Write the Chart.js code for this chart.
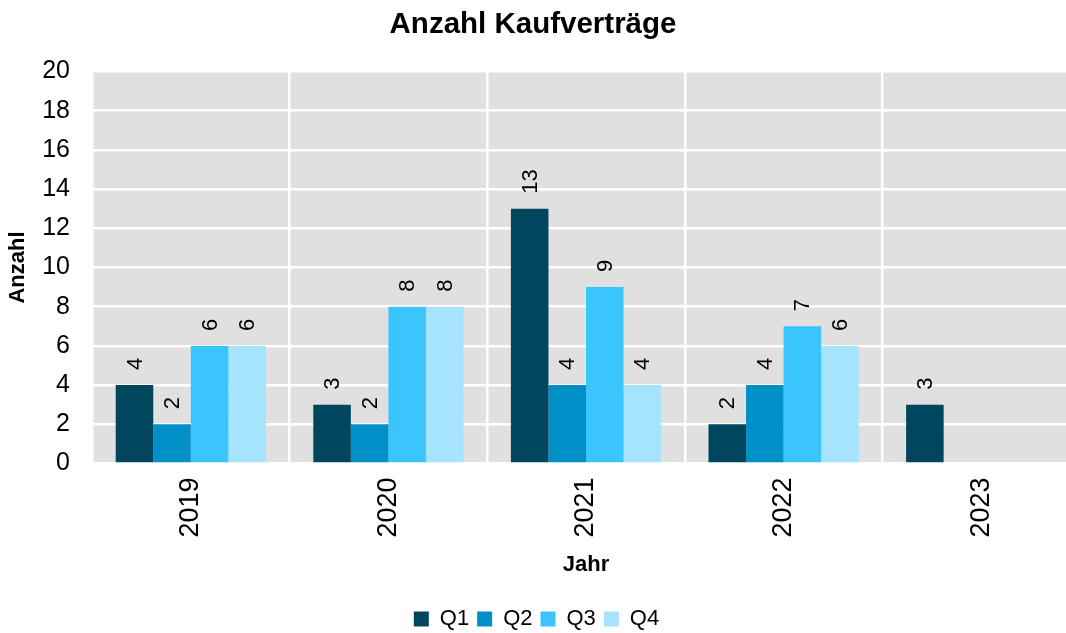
<!DOCTYPE html>
<html>
<head>
<meta charset="utf-8">
<script src="https://cdn.jsdelivr.net/npm/chart.js@4"></script>
<style>
  html, body { margin: 0; padding: 0; background: #ffffff; overflow: hidden; }
  #wrap { width: 1066px; height: 633px; overflow: hidden; }
</style>
</head>
<body>
<div id="wrap"><canvas id="kaufChart" width="1094" height="640"></canvas></div>
<script>
const years = ['2019', '2020', '2021', '2022', '2023'];
const q1 = [4, 3, 13, 2, 3];
const q2 = [2, 2, 4, 4, null];
const q3 = [6, 8, 9, 7, null];
const q4 = [6, 8, 4, 6, null];
const seriesNames = ['Q1', 'Q2', 'Q3', 'Q4'];
const seriesColors = ['#00465f', '#0090c8', '#3bc5ff', '#a5e3ff'];

const FONT = "'Liberation Sans', Arial, sans-serif";

// grey plot background
const plotBackground = {
    id: 'plotBackground',
    beforeDraw(chart) {
        const { ctx, chartArea } = chart;
        ctx.save();
        ctx.fillStyle = '#e0e0e0';
        ctx.fillRect(chartArea.left, chartArea.top,
            chartArea.right - chartArea.left, chartArea.bottom - chartArea.top);
        ctx.restore();
    }
};

// plot runs past the visible edge, so keep title and legend centred on the page
const centreBlocks = {
    id: 'centreBlocks',
    afterLayout(chart) {
        if (chart.titleBlock) {
            chart.titleBlock.left = 0;
            chart.titleBlock.right = 1066;
        }
        if (chart.legend) {
            chart.legend.right -= 7;
        }
    }
};

// vertical value labels above the bars
const barLabels = {
    id: 'barLabels',
    afterDatasetsDraw(chart) {
        const ctx = chart.ctx;
        ctx.save();
        ctx.font = '22px ' + FONT;
        ctx.fillStyle = '#000000';
        ctx.textAlign = 'left';
        ctx.textBaseline = 'middle';
        chart.data.datasets.forEach((ds, i) => {
            const meta = chart.getDatasetMeta(i);
            meta.data.forEach((bar, j) => {
                const v = ds.data[j];
                if (v === null || v === undefined) return;
                ctx.save();
                ctx.translate(bar.x + 1, bar.y - 15);
                ctx.rotate(-Math.PI / 2);
                ctx.fillText(String(v), 0, 0);
                ctx.restore();
            });
        });
        ctx.restore();
    }
};

const datasets = [q1, q2, q3, q4].map((values, i) => ({
    label: seriesNames[i],
    data: values,
    backgroundColor: seriesColors[i],
    borderWidth: 0,
    categoryPercentage: 0.76,
    barPercentage: 1.0
}));

new Chart(document.getElementById('kaufChart'), {
    type: 'bar',
    data: { labels: years, datasets: datasets },
    options: {
        responsive: false,
        animation: false,
        layout: { padding: { left: 0, right: 14, top: 0, bottom: 0 } },
        plugins: {
            title: {
                display: true,
                text: 'Anzahl Kaufverträge',
                color: '#000000',
                font: { family: FONT, size: 29.5, weight: 'bold' },
                padding: { top: 7, bottom: 29 }
            },
            legend: {
                position: 'bottom',
                labels: {
                    color: '#000000',
                    font: { family: FONT, size: 22 },
                    boxWidth: 15,
                    boxHeight: 15,
                    padding: 8
                }
            },
            tooltip: { enabled: false }
        },
        scales: {
            x: {
                grid: { color: '#ffffff', lineWidth: 2.5, offset: true, drawTicks: false },
                border: { display: false },
                ticks: {
                    color: '#000000',
                    font: { family: FONT, size: 27 },
                    minRotation: 90,
                    maxRotation: 90,
                    padding: 14
                },
                title: {
                    display: true,
                    text: 'Jahr',
                    color: '#000000',
                    font: { family: FONT, size: 22, weight: 'bold' },
                    padding: { top: 0, bottom: 22 }
                }
            },
            y: {
                min: 0,
                max: 20,
                afterFit(scale) {
                    scale.width = 92;
                },
                grid: { color: '#ffffff', lineWidth: 2.5, drawTicks: false },
                border: { display: false },
                ticks: {
                    stepSize: 2,
                    color: '#000000',
                    font: { family: FONT, size: 25 },
                    padding: 22
                },
                title: {
                    display: true,
                    text: 'Anzahl',
                    color: '#000000',
                    font: { family: FONT, size: 22, weight: 'bold' },
                    padding: { top: 5, bottom: 2 }
                }
            }
        }
    },
    plugins: [plotBackground, centreBlocks, barLabels]
});
</script>
</body>
</html>
